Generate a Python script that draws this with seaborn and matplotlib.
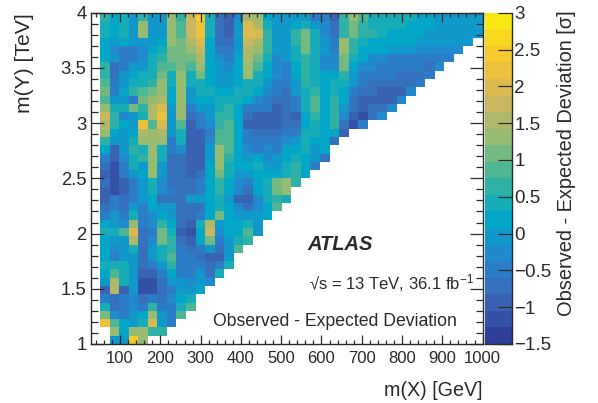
import numpy as np
import pandas as pd
import seaborn as sns
import matplotlib.pyplot as plt
from matplotlib.colors import LinearSegmentedColormap

nan = np.nan

# band colours of the palette, low to high
palette_stops = ["#2d3f99", "#3c69b8", "#2486cf", "#00a9c8", "#3cb59c",
                 "#93bb72", "#cfb55f", "#f7c52f", "#f9e814"]

x_major = [100, 200, 300, 400, 500, 600, 700, 800, 900, 1000]
y_major = [1, 1.5, 2, 2.5, 3, 3.5, 4]
y_major_labels = ["1", "1.5", "2", "2.5", "3", "3.5", "4"]
cbar_ticks = [-1.5, -1, -0.5, 0, 0.5, 1, 1.5, 2, 2.5, 3]
cbar_labels = ["\u22121.5", "\u22121", "\u22120.5", "0", "0.5", "1", "1.5", "2", "2.5", "3"]

# deviation per row, top row (m(Y) near 4 TeV) first, columns from m(X) = 50 GeV
row00 = [.6, .1, .5, -.1, .7, -.1, 0, 1.2, .7, 1.8, 2.4, .5, -.7, -.9, -.2, 1.5, 1.2, .2, -.1, 0, -.1, 0, -.6, -.6, -.9, .7, 1.2, .9, .5, .5, .4, .4, .5, .2, .2, 0, 0, -.1, -.1, -.1]
row01 = [.4, .1, .5, -.1, 1.2, -.1, 0, 1.2, .8, 1.8, 2.3, .4, -.8, -.95, -.1, 1.9, 1.5, .5, 0, 0, .1, .4, -.1, -.3, -.8, .7, 1.1, .7, .5, .4, .4, .4, .2, .2, .2, 0, 0, 0, 0, 0]
row02 = [.4, .1, .5, -.1, 1.2, -.1, 0, 1.2, .9, 1.8, 2.3, .3, -.8, -.9, -.1, 1.9, 1.9, .6, 0, 0, .6, 1.1, .3, -.2, -.8, .6, 1.0, .7, .6, .5, .2, .2, .2, .2, 0, 0, 0, 0, 0, 0]
row03 = [.2, -.1, .2, -.1, -.1, -.1, .1, 1.2, 1.0, 1.5, 2.0, .2, -.7, -.7, -.1, 1.8, 1.6, .6, 0, 0, .6, 1.1, .4, -.1, -.5, 1.2, .7, .5, .2, .2, .2, .1, .1, 0, 0, 0, 0, 0, -.1]
row04 = [.2, -.3, -.4, -.4, -.2, .1, .3, 1.0, 1.0, 1.3, 1.7, .2, -.4, -.5, 0, 1.5, 1.4, .6, 0, 0, .5, 1.0, .4, -.1, -.4, 1.2, .6, .1, .1, .1, -.1, -.1, -.1, -.3, -.3, -.3, -.3, -.3]
row05 = [.2, 0, -.4, -.4, -.2, .4, .6, 1.0, 1.0, 1.0, 1.5, .2, -.2, -.5, .2, 1.5, 1.0, .4, -.2, -.1, .5, .7, .4, -.2, -.2, 1.1, .3, .1, -.2, -.2, -.4, -.4, -.4, -.5, -.5, -.5, -.5]
row06 = [.6, -.7, -.4, -.1, 0, .4, .8, .8, 1.0, .8, 1.3, .2, 0, -.3, .2, 1.3, .9, .2, -.3, -.4, .2, .7, .5, -.2, -.2, 1.1, .1, -.2, -.2, -.4, -.4, -.4, -.6, -.6, -.7, -.2]
row07 = [.7, -.7, -.1, .1, .4, .5, 1.0, .5, 1.2, .4, 1.0, .2, 0, -.1, .2, 1.3, .5, .2, -.3, -.4, .2, .7, .5, .1, .1, .6, -.1, -.4, -.4, -.6, -.6, -.7, -.7, -.7, -.4]
row08 = [.8, -.4, -.1, .3, .5, .7, 1.3, .5, 1.2, .3, .3, .1, 0, -.1, .2, .5, .4, -.1, -.5, -.6, -.1, .7, .5, .1, .4, .4, -.1, -.5, -.7, -.7, -.7, -.7, -.7, -.4]
row09 = [1.0, -.4, .1, .6, .8, 1.0, 1.3, .2, 1.2, 0, .3, .3, .1, .1, .4, .4, .2, -.3, -.6, -.7, -.1, .5, .7, .1, .4, .1, -.4, -.7, -.7, -.9, -.9, -.9, -.2]
row10 = [.9, -.1, -.1, -.4, 1.0, 1.3, 1.6, .2, 1.2, -.1, .1, .1, .3, .3, .4, .1, -.3, -.6, -.8, -.7, -.5, .4, .8, .1, .7, .2, -.7, -.9, -.9, -.9, -.9, -.3]
row11 = [1.4, .3, .5, 1.1, .7, 1.6, 2.0, 0, 1.2, -.4, -.1, -.1, .3, .6, .1, -.4, -.5, -.6, -.9, -.8, -.5, .4, .8, .1, .7, 0, -.7, -.9, -.8, -.8, -.2]
row12 = [1.7, .6, -.2, -.1, .5, 1.6, 2.3, 0, 1.2, -.7, -.4, -.1, .6, .7, .1, -.8, -.9, -.9, -.9, -.8, -.9, .1, .7, .1, .7, -.3, -1, -1.1, -.8, -.2]
row13 = [1.6, .6, .1, 0, 2.1, .9, 1.9, -.1, .8, -.9, -.6, -.3, .7, .9, .1, -.9, -1, -1, -1, -.8, -.8, .1, .5, .1, .7, -.7, -1.1, -.5]
row14 = [1.2, .1, -.1, .1, 1.6, 1.4, 1.5, -.1, .5, -.9, -.9, -.4, .9, .9, .1, -.6, -.8, -.8, -.8, -.4, -.4, .4, .4, .1, .1, -.9]
row15 = [.6, -.1, -.1, .3, 1.3, 1.3, 1.2, -.4, .3, -1, -.9, -.2, .9, .9, .1, -.4, -.5, -.6, -.5, -.2, 0, .4, .1, .1, -.7]
row16 = [.1, -.9, -.1, .7, .5, 1.3, .5, -.6, -.2, -.95, -.9, -.1, 1.2, .8, .1, -.2, -.4, -.2, -.6, .2, .1, .3, -.1, .1]
row17 = [-.5, -1.0, -.3, .5, .6, 1.3, .3, -.7, -.7, -.9, -.9, -.1, 1.2, .7, .1, 0, .1, -.3, -.1, .1, .4, .2, -.1, -.7]
row18 = [-.7, -1.1, -.4, .4, 0, 1.3, -.1, -.7, -.8, -.9, -.9, .2, 1.2, .4, .1, .1, .5, -.1, 0, .4, .7, .2, -.4]
row19 = [-.9, -1.1, -.5, -.1, .1, 1.3, -.1, -.7, -.8, -.9, -.8, .2, 1.1, .4, -.1, -.1, .1, .1, .2, .5, .7, .1]
row20 = [-.8, -1.2, -.9, -.4, -.1, .5, -.3, -.7, -.8, -.7, -.4, .2, .7, .1, -.3, -.4, .1, .4, 1.0, 1.2, .7]
row21 = [-.9, -1.2, -.9, -.4, -.1, .5, -.3, -.6, -.7, -.7, -.4, .2, .7, .1, -.3, -.7, .1, .4, 1.0, 1.3]
row22 = [-.9, -.5, -.8, -.6, -.1, .2, -.7, -.7, -.7, -.1, 0, .1, .4, 0, -.9, -1, -.3, .4, .6, .3]
row23 = [-.8, -.5, -.8, -.1, -.4, .1, -.1, -.1, -.7, -.7, -.7, .2, .4, .1, -.3, -.7, -.3, .1, .9]
row24 = [-.4, -.1, -.5, .5, -.4, -.3, .1, -.1, -.7, -.7, -.4, .1, 1.0, .1, -.1, -.1, -.1, .2]
row25 = [.2, 0, -.2, 1.3, -.4, -.3, .6, .1, -.8, -.9, .4, 1.5, -.1, .2, .2, .4, -.1]
row26 = [.5, .5, .9, 2.0, -.7, -.4, 1.0, .4, -.9, -1.1, .2, 1.8, -.2, .2, .2, .9, -.1]
row27 = [.1, -.1, -.1, 1.5, -.7, -.3, 1.0, .6, -.7, -.9, .1, 1.1, -.4, -.1, .4, .7]
row28 = [.1, -.3, 0, .5, -.7, -.1, .3, .6, -.6, -.7, -.5, -.1, -.8, -.1, .8]
row29 = [.1, -.4, -.1, -.1, -.7, -.1, .3, .9, -.4, -.4, -.7, -.9, -1, -.1]
row30 = [.5, .5, .4, -.1, -.7, -.4, 0, .6, -.4, -.4, -.5, -.7, -.4, .5]
row31 = [.1, .9, .4, -.1, -1, -1, -.4, .1, -.4, -.4, 0, -.7, .3]
row32 = [-.1, 1.5, .4, -.1, -1.1, -1.1, -.7, -.1, -.1, -.3, -.1, -.3]
row33 = [-1, 1.5, -1, -.1, -1.1, -1.1, -.8, -.4, -.1, -.1, .2]
row34 = [-.4, -.8, -.4, -.2, -.7, -.6, -.7, -.2, .2, .5]
row35 = [.4, -.7, -.4, -.3, -.4, .7, -.4, -.6, .3, .8]
row36 = [1.0, -.3, -.4, -.1, .1, 1.4, -.1, -.6, .8]
row37 = [2.2, .8, .1, -.1, .5, 2.0, 0, -.6]
row38 = [nan, 1.4, .1, 1.2, 1.2, .6, .7]
row39 = [nan, 0, -.1, 2.4, 1.3]

rows = [row00, row01, row02, row03, row04, row05, row06, row07, row08, row09,
        row10, row11, row12, row13, row14, row15, row16, row17, row18, row19,
        row20, row21, row22, row23, row24, row25, row26, row27, row28, row29,
        row30, row31, row32, row33, row34, row35, row36, row37, row38, row39]

plt.rcParams['font.family'] = ['Liberation Sans', 'DejaVu Sans']
plt.rcParams['mathtext.fontset'] = 'custom'
plt.rcParams['mathtext.rm'] = 'Liberation Sans'
plt.rcParams['mathtext.it'] = 'Liberation Sans:italic'
plt.rcParams['mathtext.default'] = 'regular'
plt.rcParams['text.color'] = '#2a2a2a'

W, H = 598, 403
ink = '#2a2a2a'

# one cell is 23.75 GeV x 0.075 TeV, the heatmap axis counts cells
def x_cell(v):
    return (np.asarray(v, dtype=float) - 50) / 23.75

def y_cell(v):
    return (4 - np.asarray(v, dtype=float)) / 0.075

df = pd.DataFrame(rows)
cmap = LinearSegmentedColormap.from_list("bird", palette_stops).resampled(20)

fig = plt.figure(figsize=(W / 100, H / 100), dpi=100)
ax = fig.add_axes([90.7 / W, 1 - 344 / H, (482.6 - 90.7) / W, (344 - 12.7) / H])
cax = fig.add_axes([485 / W, 1 - 344 / H, 26.7 / W, (344 - 12.7) / H])

sns.heatmap(df, ax=ax, cmap=cmap, vmin=-1.5, vmax=3, cbar_ax=cax,
            xticklabels=False, yticklabels=False, cbar_kws={'ticks': cbar_ticks})

ax.set_xlim(x_cell(27), 40)
ax.set_ylim(40, 0)
ax.set_xlabel("")
ax.set_ylabel("")
for s in ax.spines.values():
    s.set_visible(True)
    s.set_color(ink)
    s.set_linewidth(1.0)

ax.set_xticks(x_cell(x_major))
ax.set_xticklabels([str(v) for v in x_major], fontsize=12, color=ink)
ax.set_xticks(x_cell(np.arange(40, 1001, 20)), minor=True)
ax.set_yticks(y_cell(y_major))
ax.set_yticklabels(y_major_labels, fontsize=13.3, color=ink)
ax.set_yticks(y_cell(np.arange(1, 4.01, 0.1)), minor=True)
ax.tick_params(axis='x', which='major', direction='in', length=6.5, width=0.9, color=ink, top=True, bottom=True, pad=5)
ax.tick_params(axis='x', which='minor', direction='in', length=3.2, width=0.9, color=ink, top=True, bottom=True)
ax.tick_params(axis='y', which='major', direction='in', length=9.5, width=0.9, color=ink, left=True, right=True, pad=3)
ax.tick_params(axis='y', which='minor', direction='in', length=4.8, width=0.9, color=ink, left=True, right=True)

cbar = ax.collections[0].colorbar
cbar.set_ticklabels(cbar_labels)
cbar.outline.set_visible(False)
cax.tick_params(axis='y', which='both', direction='in', length=10, width=0.9, color=ink, labelsize=13.5, labelcolor=ink, pad=2)
cax.axvline(cax.get_xlim()[1], color=ink, lw=1.0, clip_on=False)
cax.axhline(-1.5, color=ink, lw=1.0, clip_on=False)

fig.text(25 / W, 1 - 13 / H, "m(Y) [TeV]", rotation=90, ha='center', va='top', fontsize=15.2)
fig.text(482 / W, 1 - 391 / H, "m(X) [GeV]", ha='right', va='center', fontsize=14.2)
fig.text(567 / W, 1 - 10 / H, "Observed - Expected Deviation [\u03c3]", rotation=90,
         ha='center', va='top', fontsize=14.4)
fig.text(307 / W, 1 - 245 / H, "ATLAS", fontweight='bold', fontstyle='italic', va='center', fontsize=14.5)
fig.text(309 / W, 1 - 283 / H, "\u221as = 13 TeV, 36.1 fb$^{-1}$", va='center', fontsize=12)
fig.text(213 / W, 1 - 321 / H, "Observed - Expected Deviation", va='center', fontsize=12.7)

fig.savefig("out.png", dpi=100)
